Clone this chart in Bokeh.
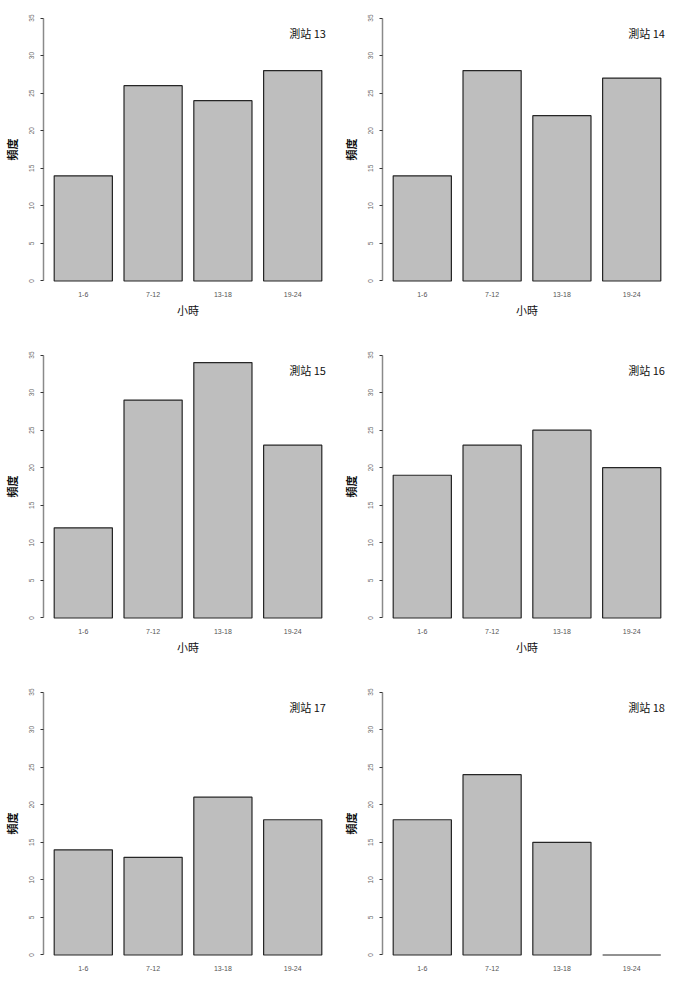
from bokeh.plotting import figure
from bokeh.layouts import gridplot
from bokeh.models import FixedTicker, Label, ColumnDataSource
from bokeh.embed import file_html
from bokeh.resources import INLINE

# Hourly frequency counts for each station
hours = ["1-6", "7-12", "13-18", "19-24"]
stations = ["測站 13", "測站 14", "測站 15", "測站 16", "測站 17", "測站 18"]
st13 = [14, 26, 24, 28]
st14 = [14, 28, 22, 27]
st15 = [12, 29, 34, 23]
st16 = [19, 23, 25, 20]
st17 = [14, 13, 21, 18]
st18 = [18, 24, 15, 0]
counts = [st13, st14, st15, st16, st17, st18]

y_ticks = [0, 5, 10, 15, 20, 25, 30, 35]
x_label = "小時"
y_label = "頻度"

CJK = "Noto Sans CJK TC"
LATIN = "Liberation Sans"

# bar layout in the style of R's barplot: unit-width bars, 0.2 gaps, 4% padding
bar_width = 1.0
bar_gap = 0.2
centers = [bar_gap + bar_width / 2 + i * (bar_width + bar_gap) for i in range(len(hours))]
x_lo = centers[0] - bar_width / 2
x_hi = centers[-1] + bar_width / 2
x_pad = 0.04 * (x_hi - x_lo)
y_top = y_ticks[-1]
y_pad = 0.04 * y_top

FRAME_W = 289
FRAME_H = 284
TOP = 7
ROW_H = 337
LAST_ROW_H = 989 - 2 * ROW_H


def make_panel(name, values, col, last_row):
    right_border = 7 if col == 0 else 2
    width = 43 + FRAME_W + right_border
    height = LAST_ROW_H if last_row else ROW_H
    bottom_border = height - TOP - FRAME_H
    p = figure(
        width=width, height=height,
        x_range=(x_lo - x_pad, x_hi + x_pad),
        y_range=(-y_pad, y_top + y_pad),
        output_backend="svg", toolbar_location=None,
        min_border_left=43, min_border_right=right_border,
        min_border_top=TOP, min_border_bottom=bottom_border,
    )
    p.outline_line_color = None
    p.xgrid.visible = False
    p.ygrid.visible = False
    p.background_fill_color = "white"
    p.border_fill_color = "white"

    src = ColumnDataSource(dict(x=centers, top=values, hour=hours))
    p.vbar(x="x", top="top", bottom=0, width=bar_width, source=src,
           fill_color="#bebebe", line_color="#262626", line_width=1.2)

    # x axis: labels only, no line or ticks
    xa = p.xaxis[0]
    xa.ticker = FixedTicker(ticks=centers)
    xa.major_label_overrides = {c: h for c, h in zip(centers, hours)}
    xa.axis_line_color = None
    xa.major_tick_line_color = None
    xa.minor_tick_line_color = None
    xa.major_tick_out = 0
    xa.major_tick_in = 0
    xa.minor_tick_out = 0
    xa.major_label_standoff = 0
    xa.major_label_text_font = LATIN
    xa.major_label_text_font_size = "7px"
    xa.major_label_text_color = "#555555"
    if not last_row:
        xa.axis_label = x_label
        xa.axis_label_standoff = 2
        xa.axis_label_text_font = CJK
        xa.axis_label_text_font_size = "11px"
        xa.axis_label_text_font_style = "normal"
        xa.axis_label_text_color = "#111111"
    else:
        px_per_unit = FRAME_H / (y_top + 2 * y_pad)
        p.add_layout(Label(x=(x_lo + x_hi) / 2, y=-y_pad - 15 / px_per_unit,
                           text=x_label, text_font=CJK, text_font_size="11px",
                           text_color="#111111", text_align="center",
                           text_baseline="middle"))

    # y axis: R-style line spanning 0..35, rotated tick labels
    ya = p.yaxis[0]
    ya.ticker = FixedTicker(ticks=y_ticks)
    ya.bounds = (y_ticks[0], y_ticks[-1])
    ya.axis_line_color = "#8a8a8a"
    ya.axis_line_width = 1.5
    ya.major_tick_line_color = "#333333"
    ya.major_tick_out = 3
    ya.major_tick_in = 0
    ya.minor_tick_line_color = None
    ya.major_label_orientation = "vertical"
    ya.major_label_standoff = 6
    ya.major_label_text_font = LATIN
    ya.major_label_text_font_size = "6.5px"
    ya.major_label_text_color = "#666666"
    ya.axis_label = y_label
    ya.axis_label_standoff = 7
    ya.axis_label_text_font = CJK
    ya.axis_label_text_font_size = "11px"
    ya.axis_label_text_font_style = "bold"
    ya.axis_label_text_color = "#111111"

    p.add_layout(Label(x=x_hi + 0.07, y=33.0, text=name, text_font=CJK,
                       text_font_size="11px", text_color="#111111",
                       text_align="right", text_baseline="middle"))
    return p


panels = []
for i, (name, vals) in enumerate(zip(stations, counts)):
    panels.append(make_panel(name, vals, i % 2, i >= 4))

grid = gridplot([panels[0:2], panels[2:4], panels[4:6]], toolbar_location=None)

open("out.html", "w").write(file_html(grid, INLINE))
